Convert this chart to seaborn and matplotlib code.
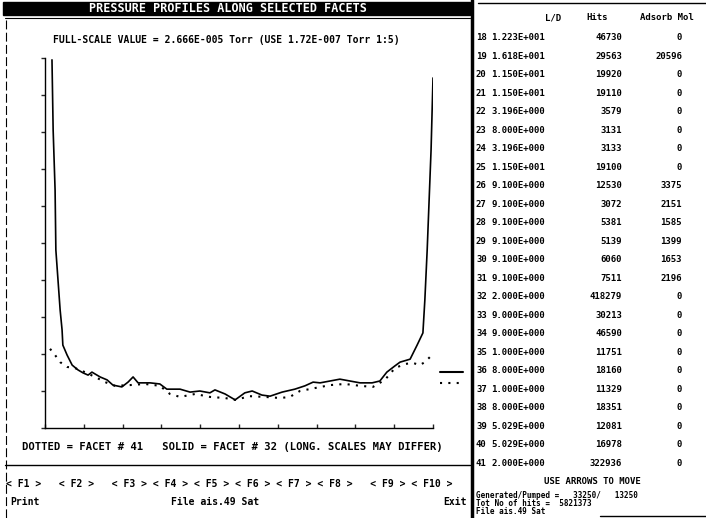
import numpy as np
import pandas as pd
import matplotlib
matplotlib.use("Agg")
import matplotlib.pyplot as plt
import seaborn as sns

# Profile data (position along facet in %, pressure in scale units 0-10)
solid_x = [1.8, 2.1, 2.6, 2.8, 3.9, 4.4, 4.6, 5.7, 7.0, 8.5, 9.8, 11.1, 12.1, 14.2, 16.0,
           17.5, 19.8, 21.4, 22.7, 24.0, 27.1, 29.6, 31.4, 34.8, 37.4, 39.9, 42.5, 43.8,
           46.4, 49.0, 51.5, 53.4, 55.9, 58.0, 61.1, 64.4, 67.0, 69.1, 70.9, 76.0, 78.6,
           81.2, 84.3, 86.3, 88.1, 90.2, 91.5, 94.1, 95.9, 97.4, 97.9, 98.5, 99.0, 99.5, 100.0]
solid_y = [9.95, 8.05, 6.43, 4.81, 3.19, 2.65, 2.24, 1.97, 1.70, 1.57, 1.49, 1.43, 1.51, 1.38, 1.30,
           1.16, 1.11, 1.24, 1.38, 1.22, 1.22, 1.19, 1.05, 1.05, 0.97, 1.00, 0.95, 1.03,
           0.92, 0.76, 0.95, 1.00, 0.89, 0.86, 0.97, 1.05, 1.14, 1.24, 1.22, 1.32, 1.27,
           1.22, 1.22, 1.27, 1.51, 1.68, 1.78, 1.86, 2.24, 2.57, 3.46, 4.81, 6.16, 7.51, 9.46]

dotted_x = [1.3, 2.6, 3.9, 5.7, 7.7, 10.3, 12.9, 15.5, 18.0, 21.9, 25.8, 29.6, 32.2, 34.8,
            38.7, 42.5, 46.4, 49.0, 52.8, 56.7, 60.6, 63.1, 65.7, 69.6, 73.5, 77.3, 81.2,
            84.5, 87.6, 90.2, 92.8, 94.8, 96.6, 97.9, 99.7]
dotted_y = [2.14, 1.97, 1.78, 1.65, 1.62, 1.51, 1.38, 1.24, 1.14, 1.16, 1.19, 1.14, 0.92, 0.84,
            0.92, 0.84, 0.81, 0.76, 0.86, 0.84, 0.81, 0.84, 1.00, 1.08, 1.16, 1.19, 1.14,
            1.11, 1.30, 1.62, 1.73, 1.76, 1.70, 1.78, 1.97]

# Facet table on the right
facet_ids = list(range(18, 42))
facet_pos = ["1.223E+001", "1.618E+001", "1.150E+001", "1.150E+001", "3.196E+000", "8.000E+000",
             "3.196E+000", "1.150E+001", "9.100E+000", "9.100E+000", "9.100E+000", "9.100E+000",
             "9.100E+000", "9.100E+000", "2.000E+000", "9.000E+000", "9.000E+000", "1.000E+000",
             "8.000E+000", "1.000E+000", "8.000E+000", "5.029E+000", "5.029E+000", "2.000E+000"]
facet_hits = [46730, 29563, 19920, 19110, 3579, 3131, 3133, 19100, 12530, 3072, 5381, 5139,
              6060, 7511, 418279, 30213, 46590, 11751, 18160, 11329, 18351, 12081, 16978, 322936]
facet_ads = [0, 20596, 0, 0, 0, 0, 0, 0, 3375, 2151, 1585, 1399, 1653, 2196,
             0, 0, 0, 0, 0, 0, 0, 0, 0, 0]

solid = pd.DataFrame({"x": solid_x, "y": solid_y})
dotted = pd.DataFrame({"x": dotted_x, "y": dotted_y})

sns.set_style("white")
plt.rcParams["font.family"] = ["DejaVu Sans Mono"]
W, H = 706, 518
fig = plt.figure(figsize=(W / 100, H / 100), dpi=100)

# background layer in pixel units for the screen frame and text
bg = fig.add_axes([0, 0, 1, 1])
bg.set_xlim(0, W)
bg.set_ylim(H, 0)
bg.axis("off")

fnt = dict(fontsize=7, fontweight="bold", color="black", va="center")
small = {**fnt, "fontsize": 5.5}
tab = {**fnt, "fontsize": 6.5}

bg.add_patch(plt.Rectangle((3, 2), 467, 13, color="black"))
bg.text(228, 8.5, "PRESSURE PROFILES ALONG SELECTED FACETS", ha="center",
        **{**fnt, "color": "white", "fontsize": 8.5})
bg.plot([5, 470], [17.5, 17.5], color="black", lw=0.8)
bg.plot([6, 6], [20, H], color="black", lw=0.8, ls=(0, (8, 3)))
bg.plot([472, 472], [0, H], color="black", lw=2.5)
bg.plot([478, W], [3, 3], color="black", lw=1.0)
bg.plot([600, W], [516, 516], color="black", lw=1.0)
bg.plot([5, 470], [465, 465], color="black", lw=1.0)

bg.text(226, 40, "FULL-SCALE VALUE = 2.666E-005 Torr (USE 1.72E-007 Torr 1:5)", ha="center", **fnt)
bg.text(22, 447, "DOTTED = FACET # 41   SOLID = FACET # 32 (LONG. SCALES MAY DIFFER)",
        ha="left", **{**fnt, "fontsize": 7.6})
bg.text(6, 484, "< F1 >   < F2 >   < F3 > < F4 > < F5 > < F6 > < F7 > < F8 >   < F9 > < F10 >",
        ha="left", **{**fnt, "fontsize": 7.0})
bg.text(10, 502, "Print", ha="left", **fnt)
bg.text(215, 502, "File ais.49 Sat", ha="center", **fnt)
bg.text(467, 502, "Exit", ha="right", **fnt)

# legend swatches beside the plot
bg.plot([440, 463], [372, 372], color="black", lw=1.5)
bg.plot([440, 463], [383, 383], color="black", lw=1.5, ls=(0, (1, 3)))

# facet table
bg.text(553, 18, "L/D", ha="center", **tab)
bg.text(597, 18, "Hits", ha="center", **tab)
bg.text(640, 18, "Adsorb Mol", ha="left", **tab)
for i, fid in enumerate(facet_ids):
    y = 38 + i * 18.48
    bg.text(476, y, f"{fid}", ha="left", **tab)
    bg.text(491, y, facet_pos[i], ha="left", **tab)
    bg.text(622, y, f"{facet_hits[i]}", ha="right", **tab)
    bg.text(682, y, f"{facet_ads[i]}", ha="right", **tab)

bg.text(592, 482, "USE ARROWS TO MOVE", ha="center", **tab)
bg.text(476, 495, "Generated/Pumped =   33250/   13250", ha="left", **small)
bg.text(476, 503, "Tot No of hits =  5821373", ha="left", **small)
bg.text(476, 511, "File ais.49 Sat", ha="left", **small)

# profile plot
ax = fig.add_axes([45 / W, (H - 428) / H, (433 - 45) / W, (428 - 58) / H])
ax.patch.set_alpha(0)
sns.lineplot(data=solid, x="x", y="y", ax=ax, color="black", lw=1.2)
sns.lineplot(data=dotted, x="x", y="y", ax=ax, color="black", lw=1.5, ls=(0, (1, 3)))
ax.set_xlim(0, 100)
ax.set_ylim(0, 10)
ax.set_xticks(np.arange(0, 101, 10))
ax.set_yticks(np.arange(0, 11, 1))
ax.set_xticklabels([])
ax.set_yticklabels([])
ax.set_xlabel("")
ax.set_ylabel("")
for s in ["top", "right"]:
    ax.spines[s].set_visible(False)
for s in ["left", "bottom"]:
    ax.spines[s].set_linewidth(1.0)
    ax.spines[s].set_color("black")
ax.tick_params(axis="y", direction="out", length=3, width=1, left=True)
ax.tick_params(axis="x", direction="in", length=3, width=1, bottom=True)

fig.savefig("out.png", dpi=100)
